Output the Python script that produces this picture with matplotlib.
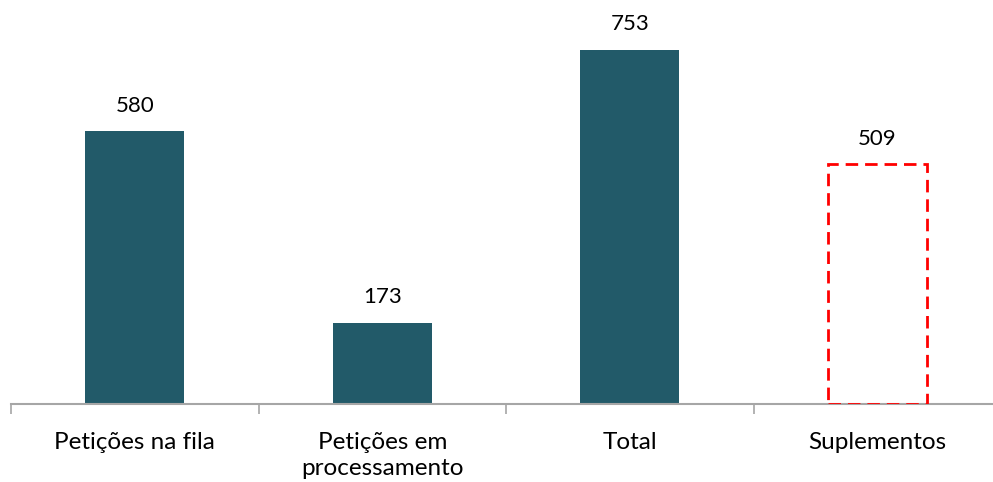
import matplotlib.pyplot as plt
from matplotlib.patches import Rectangle

categories = ["Petições na fila", "Petições em\nprocessamento", "Total", "Suplementos"]
values = [580, 173, 753, 509]
dashed = [False, False, False, True]

BAR_COLOR = "#225a69"

plt.rcParams['font.family'] = ['Lato', 'DejaVu Sans']

fig = plt.figure(figsize=(9.93, 4.82), dpi=100)
ax = fig.add_axes([11 / 993, 78 / 482, 990 / 993, 376.6 / 482])

x = range(len(categories))
width = 0.40
for xi, v, d in zip(x, values, dashed):
    if d:
        ax.add_patch(Rectangle((xi - width / 2, 0), width, v, fill=False,
                               edgecolor="#ff0000", linestyle=(0, (4.5, 2.5)),
                               linewidth=2, zorder=3))
    else:
        ax.bar(xi, v, width=width, color=BAR_COLOR, zorder=2)
    ax.text(xi, v + 32, f"{v}", ha="center", va="bottom", fontsize=16)

ax.set_xlim(-0.5, len(categories) - 0.5)
ax.set_ylim(0, 800)
ax.set_xticks([i - 0.5 for i in range(len(categories) + 1)])
ax.set_xticklabels([])
ax.tick_params(axis="x", length=7, width=1.2, color="#a6a6a6")
ax.set_xticks(list(x), minor=True)
ax.set_xticklabels(categories, minor=True, fontsize=17.5, linespacing=1.32)
ax.tick_params(axis="x", which="minor", length=0, pad=20)
ax.set_yticks([])
for side in ["top", "right", "left"]:
    ax.spines[side].set_visible(False)
ax.spines["bottom"].set_color("#a6a6a6")
ax.spines["bottom"].set_linewidth(1.5)

fig.savefig("out.png", dpi=100)
